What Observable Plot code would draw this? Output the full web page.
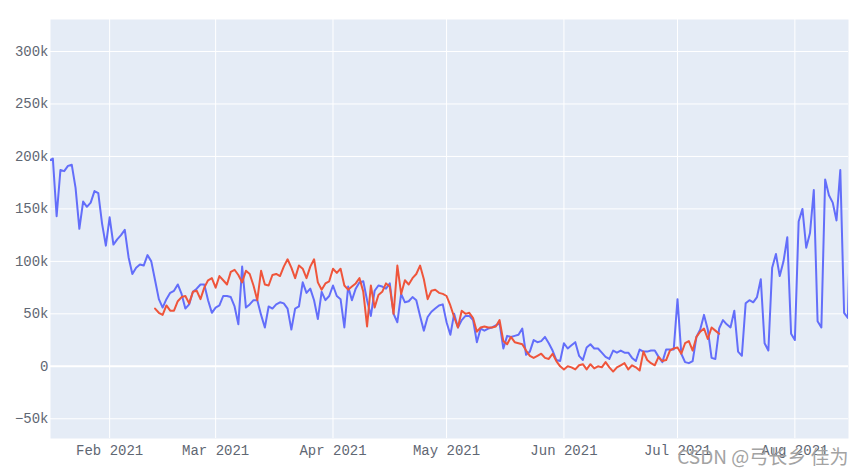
<!DOCTYPE html>
<html>
<head>
<meta charset="utf-8">
<script src="https://cdn.jsdelivr.net/npm/d3@7"></script>
<script src="https://cdn.jsdelivr.net/npm/@observablehq/plot@0.6"></script>
<style>
  html, body { margin: 0; padding: 0; background: #ffffff; overflow: hidden; }
  #chart { width: 865px; height: 474px; }
</style>
</head>
<body>
<div id="chart"></div>
<script>
// ---- data (values in thousands) ----
const blueStart = "2021-01-16";
const blueValues = [
  196, 198, 143, 187, 186, 191, 192, 170, 131, 157,
  152, 156, 167, 165, 136, 115, 142, 116, 121, 125,
  130, 104, 88, 94, 97, 96, 106, 100, 82, 64,
  56, 64, 70, 72, 78, 69, 55, 59, 71, 74,
  78, 78, 63, 51, 56, 58, 67, 67, 66, 57,
  40, 95, 56, 59, 63, 63, 49, 37, 57, 55,
  59, 61, 60, 55, 35, 55, 57, 80, 70, 74,
  63, 45, 71, 63, 67, 77, 67, 64, 37, 76,
  63, 74, 80, 81, 63, 48, 72, 77, 76, 74,
  79, 50, 42, 69, 61, 62, 66, 63, 48, 34,
  47, 52, 55, 58, 59, 42, 30, 50, 37, 44,
  48, 48, 44, 23, 36, 34, 36, 37, 39, 41,
  17, 29, 28, 29, 30, 36, 11, 14, 25, 23,
  24, 28, 22, 15, 6, 5, 22, 17, 20, 23,
  10, 6, 18, 21, 17, 17, 13, 9, 7, 15,
  13, 15, 13, 13, 8, 5, 16, 14, 14, 15,
  15, 9, 4, 16, 16, 16, 64, 12, 4, 3,
  5, 28, 35, 49, 35, 8, 7, 36, 44, 40,
  37, 53, 14, 10, 60, 63, 61, 66, 83, 22,
  15, 94, 107, 86, 100, 123, 31, 25, 138, 150,
  113, 127, 168, 43, 37, 178, 163, 156, 139, 187,
  51, 46, 190
];

const redStart = "2021-02-13";
const redValues = [
  55, 51, 49, 58, 53, 53, 62, 66, 67, 60,
  71, 72, 64, 75, 82, 84, 75, 86, 82, 78,
  90, 92, 87, 80, 91, 88, 77, 63, 91, 78,
  77, 87, 88, 86, 95, 102, 94, 84, 96, 93,
  84, 95, 102, 80, 73, 79, 81, 93, 89, 93,
  77, 73, 76, 79, 84, 71, 38, 77, 56, 68,
  71, 79, 76, 50, 96, 69, 82, 78, 84, 88,
  96, 83, 64, 72, 73, 70, 69, 67, 58, 47,
  37, 53, 50, 51, 46, 33, 37, 38, 37, 37,
  38, 44, 24, 21, 28, 23, 22, 21, 15, 10,
  8, 10, 12, 8, 7, 12, 5, 0, -3, 0,
  -1, -3, 1, 2, -3, 2, -2, 0, -1, 4,
  -1, -5, -1, 1, 3, -3, 1, -1, -4, 14,
  6, 3, 1, 9, 5, 6, 15, 17, 18, 12,
  22, 24, 15, 28, 33, 36, 26, 37, 34, 31
];

const xTickDates = ["2021-02-01", "2021-03-01", "2021-04-01", "2021-05-01", "2021-06-01", "2021-07-01", "2021-08-01"];
const yTickValues = [-50, 0, 50, 100, 150, 200, 250, 300];
const xRange = ["2021-01-16T09:07:00Z", "2021-08-15T04:00:00Z"];
const yRange = [-68.8, 330.5];
const watermark = "CSDN @弓长乡 佳为";

// ---- build tables ----
const toRows = (start, vals) => vals.map((v, i) => ({date: d3.utcDay.offset(new Date(start), i), value: v}));
const blue = toRows(blueStart, blueValues);
const red = toRows(redStart, redValues);
const xTicks = xTickDates.map(d => new Date(d));

const fmtY = d => d === 0 ? "0" : (d < 0 ? "\u2212" : "") + Math.abs(d) + "k";

const chart = Plot.plot({
  width: 865,
  height: 474,
  marginTop: 19,
  marginRight: 17,
  marginBottom: 36,
  marginLeft: 50,
  style: {
    fontFamily: "'Liberation Mono', 'DejaVu Sans Mono', monospace",
    fontSize: "14px",
    color: "#5f6773",
    background: "#ffffff",
    overflow: "visible"
  },
  x: {
    type: "utc",
    domain: xRange.map(d => new Date(d)),
    ticks: xTicks,
    tickFormat: d3.utcFormat("%b %Y"),
    tickSize: 0,
    tickPadding: 7,
    label: null
  },
  y: {
    domain: yRange,
    ticks: yTickValues,
    tickFormat: fmtY,
    tickSize: 0,
    tickPadding: 2,
    label: null
  },
  marks: [
    Plot.frame({fill: "#E5ECF6", stroke: "none"}),
    Plot.ruleY(yTickValues.filter(d => d !== 0), {stroke: "#ffffff", strokeWidth: 1}),
    Plot.ruleX(xTicks, {stroke: "#ffffff", strokeWidth: 1}),
    Plot.ruleY([0], {stroke: "#ffffff", strokeWidth: 2}),
    Plot.line(blue, {x: "date", y: "value", stroke: "#636EFA", strokeWidth: 2, clip: true}),
    Plot.line(red, {x: "date", y: "value", stroke: "#EF553B", strokeWidth: 2, clip: true}),
    Plot.text([watermark], {
      frameAnchor: "bottom-right",
      text: d => d,
      textAnchor: "end",
      lineAnchor: "middle",
      dy: 19,
      dx: 0,
      fontSize: 19,
      fontFamily: "'Noto Sans CJK SC', 'Noto Sans', sans-serif",
      fill: "#a3a3a3"
    })
  ]
});

document.getElementById("chart").appendChild(chart);
</script>
</body>
</html>
